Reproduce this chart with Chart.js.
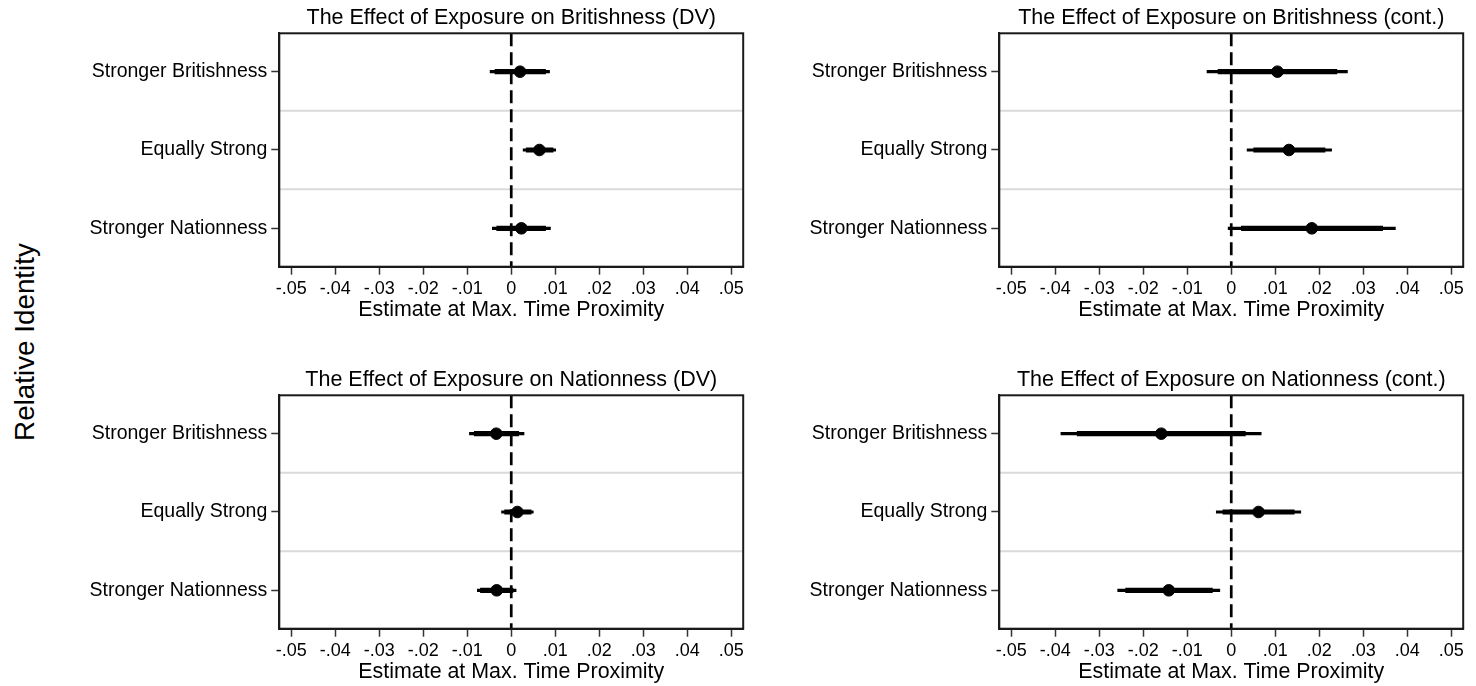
<!DOCTYPE html>
<html lang="en">
<head>
    <meta charset="UTF-8">
    <title>Effect of Exposure on Relative Identity</title>
    <script src="https://cdn.jsdelivr.net/npm/chart.js@4.4.1/dist/chart.umd.min.js"></script>
    <style>
        body { margin: 0; background: #fff; width: 1476px; height: 686px; overflow: hidden; position: relative; }
        .panel { position: absolute; width: 750px; height: 324px; }
        .ylab {
            position: absolute; left: 25px; top: 342px;
            transform: translate(-50%, -50%) rotate(-90deg);
            font-family: 'Liberation Sans', Arial, sans-serif; font-size: 27.8px;
            line-height: 28px; white-space: nowrap; color: #000;
        }
    </style>
</head>
<body>
    <div class="ylab">Relative Identity</div>
    <div class="panel" style="left:0; top:0;"><canvas id="britDv" width="750" height="324"></canvas></div>
    <div class="panel" style="left:720px; top:0;"><canvas id="britCont" width="750" height="324"></canvas></div>
    <div class="panel" style="left:0; top:362px;"><canvas id="natDv" width="750" height="324"></canvas></div>
    <div class="panel" style="left:720px; top:362px;"><canvas id="natCont" width="750" height="324"></canvas></div>

    <script>
        // categories (rows, top to bottom) and x axis ticks
        const rows = ['Stronger Britishness', 'Equally Strong', 'Stronger Nationness'];
        const xTicks = [-0.05, -0.04, -0.03, -0.02, -0.01, 0, 0.01, 0.02, 0.03, 0.04, 0.05];
        const xTickLabels = ['-.05', '-.04', '-.03', '-.02', '-.01', '0', '.01', '.02', '.03', '.04', '.05'];
        const rowBreaks = [0.5, 1.5];

        // Britishness, DV
        const britDvEst = [0.0020, 0.0064, 0.0023];
        const britDvCi95 = [[-0.0048, 0.0087], [0.0027, 0.0101], [-0.0043, 0.0089]];
        const britDvCi90 = [[-0.0037, 0.0078], [0.0034, 0.0095], [-0.0033, 0.0078]];

        // Britishness, continuous
        const britContEst = [0.0105, 0.0131, 0.0183];
        const britContCi95 = [[-0.0055, 0.0264], [0.0036, 0.0228], [-0.0007, 0.0373]];
        const britContCi90 = [[-0.0030, 0.0240], [0.0051, 0.0213], [0.0023, 0.0344]];

        // Nationness, DV
        const natDvEst = [-0.0034, 0.0014, -0.0033];
        const natDvCi95 = [[-0.0095, 0.0029], [-0.0022, 0.0050], [-0.0077, 0.0011]];
        const natDvCi90 = [[-0.0084, 0.0017], [-0.0015, 0.0045], [-0.0070, 0.0004]];

        // Nationness, continuous
        const natContEst = [-0.0159, 0.0062, -0.0142];
        const natContCi95 = [[-0.0387, 0.0068], [-0.0034, 0.0158], [-0.0258, -0.0026]];
        const natContCi90 = [[-0.0350, 0.0032], [-0.0019, 0.0143], [-0.0240, -0.0043]];

        Chart.defaults.font.family = "'Liberation Sans', Arial, sans-serif";
        Chart.defaults.color = '#000';

        const X_MIN = -0.0527, X_MAX = 0.0527;
        const Y_MIN = -0.49, Y_MAX = 2.49;

        // light row separators + outer frame
        const frame = {
            id: 'frame',
            beforeDatasetsDraw(chart) {
                const { ctx, chartArea: a, scales } = chart;
                ctx.save();
                ctx.strokeStyle = '#dadada';
                ctx.lineWidth = 2;
                rowBreaks.forEach(v => {
                    const y = scales.y.getPixelForValue(v);
                    ctx.beginPath();
                    ctx.moveTo(a.left, y);
                    ctx.lineTo(a.right, y);
                    ctx.stroke();
                });
                ctx.restore();
            },
            afterDraw(chart) {
                const { ctx, chartArea: a } = chart;
                ctx.save();
                ctx.strokeStyle = '#1a1a1a';
                ctx.lineWidth = 2;
                ctx.strokeRect(a.left, a.top, a.right - a.left, a.bottom - a.top);
                ctx.restore();
            }
        };

        function drawPanel(id, title, est, ci95, ci90) {
            const ctx = document.getElementById(id).getContext('2d');
            new Chart(ctx, {
                type: 'scatter',
                data: {
                    datasets: [
                        {
                            type: 'line',
                            data: [{ x: 0, y: Y_MIN }, { x: 0, y: Y_MAX }],
                            borderColor: '#000',
                            borderWidth: 2.7,
                            borderDash: [13, 6],
                            pointRadius: 0,
                            order: 4
                        },
                        {
                            type: 'bar',
                            indexAxis: 'y',
                            data: ci95.map((c, i) => ({ x: c, y: i })),
                            backgroundColor: '#000',
                            barThickness: 2.5,
                            grouped: false,
                            borderWidth: 0,
                            order: 3
                        },
                        {
                            type: 'bar',
                            indexAxis: 'y',
                            data: ci90.map((c, i) => ({ x: c, y: i })),
                            backgroundColor: '#000',
                            barThickness: 4.5,
                            grouped: false,
                            borderWidth: 0,
                            order: 2
                        },
                        {
                            type: 'scatter',
                            data: est.map((v, i) => ({ x: v, y: i })),
                            backgroundColor: '#000',
                            borderColor: '#000',
                            pointRadius: 5.8,
                            pointHoverRadius: 5.8,
                            order: 1
                        }
                    ]
                },
                options: {
                    responsive: false,
                    animation: false,
                    events: [],
                    layout: { padding: 0 },
                    plugins: {
                        legend: { display: false },
                        tooltip: { enabled: false },
                        title: {
                            display: true,
                            text: title,
                            fullSize: false,
                            font: { size: 21.5, weight: 'normal' },
                            padding: { top: 5.5, bottom: 2 }
                        }
                    },
                    scales: {
                        x: {
                            type: 'linear',
                            min: X_MIN,
                            max: X_MAX,
                            offset: false,
                            afterBuildTicks: axis => { axis.ticks = xTicks.map(v => ({ value: v })); },
                            afterFit: axis => { axis.height = 57.3; },
                            ticks: {
                                font: { size: 18 },
                                padding: 4,
                                maxRotation: 0,
                                autoSkip: false,
                                callback: (v, i) => xTickLabels[i]
                            },
                            grid: { offset: false, drawOnChartArea: false, tickLength: 8, tickColor: '#333', tickWidth: 1.5 },
                            border: { color: '#1a1a1a', width: 2 },
                            title: {
                                display: true,
                                text: 'Estimate at Max. Time Proximity',
                                font: { size: 21.4 },
                                padding: { top: 0, bottom: 1.5 }
                            }
                        },
                        y: {
                            type: 'linear',
                            min: Y_MIN,
                            max: Y_MAX,
                            reverse: true,
                            offset: false,
                            afterBuildTicks: axis => { axis.ticks = rows.map((r, i) => ({ value: i })); },
                            afterFit: axis => { axis.width = 279.3; },
                            ticks: {
                                font: { size: 19.5 },
                                padding: 4,
                                autoSkip: false,
                                callback: (v, i) => rows[i]
                            },
                            grid: { offset: false, drawOnChartArea: false, tickLength: 8, tickColor: '#333', tickWidth: 1.5 },
                            border: { color: '#1a1a1a', width: 2 }
                        }
                    }
                },
                plugins: [frame]
            });
        }

        drawPanel('britDv', 'The Effect of Exposure on Britishness (DV)', britDvEst, britDvCi95, britDvCi90);
        drawPanel('britCont', 'The Effect of Exposure on Britishness (cont.)', britContEst, britContCi95, britContCi90);
        drawPanel('natDv', 'The Effect of Exposure on Nationness (DV)', natDvEst, natDvCi95, natDvCi90);
        drawPanel('natCont', 'The Effect of Exposure on Nationness (cont.)', natContEst, natContCi95, natContCi90);
    </script>
</body>
</html>
